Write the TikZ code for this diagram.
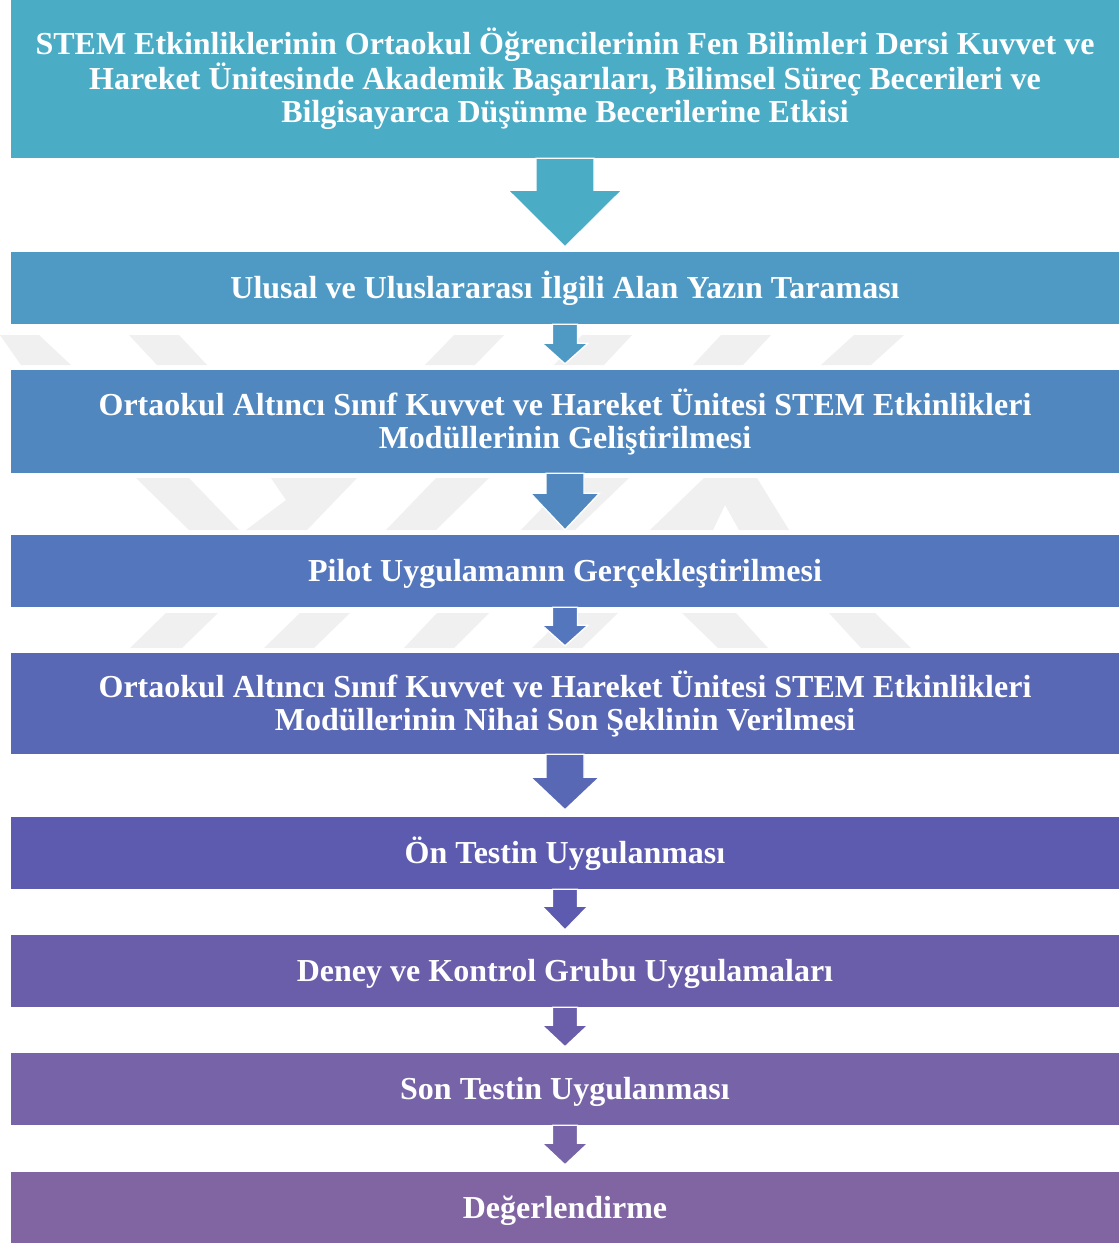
\documentclass[tikz,border=0pt]{standalone}
\usepackage{fontspec}
\setmainfont{Liberation Serif}
\usetikzlibrary{calc}

\definecolor{stepA}{HTML}{4BACC6}
\definecolor{stepB}{HTML}{4E9AC5}
\definecolor{stepC}{HTML}{5087BF}
\definecolor{stepD}{HTML}{5476BD}
\definecolor{stepE}{HTML}{5968B5}
\definecolor{stepF}{HTML}{5C5BB0}
\definecolor{stepG}{HTML}{6A5EAA}
\definecolor{stepH}{HTML}{7663A8}
\definecolor{stepI}{HTML}{8065A2}
\definecolor{wmgray}{HTML}{F0F0F0}

% block arrow from the bottom of #1 to the top of #2
% #3 colour, #4 shaft half-width, #5 head half-width, #6 shaft length, #7 gap above target
\newcommand\blockarrow[7]{%
  \filldraw[fill=#3, draw=white, line width=1.3pt, line join=miter]
    let \p1=(#1.south), \p2=(#2.north) in
    (\x1-#4pt,\y1) -- (\x1-#4pt,\y1-#6pt) -- (\x1-#5pt,\y1-#6pt)
    -- (\x1,\y2+#7pt)
    -- (\x1+#5pt,\y1-#6pt) -- (\x1+#4pt,\y1-#6pt) -- (\x1+#4pt,\y1) -- cycle;
}

\begin{document}
\begin{tikzpicture}[x=1pt,y=-1pt,
  stagebox/.style={rectangle, draw=none, minimum width=1108pt, inner sep=0pt,
    align=center, text=white, font=\bfseries\fontsize{32}{33}\selectfont},
  oneline/.style={stagebox, minimum height=72pt, text height=24pt, text depth=3pt},
  wm/.style={fill=wmgray, draw=none}]
\useasboundingbox (0,0) rectangle (1119,1243);
\fill[white] (0,0) rectangle (1119,1243);

% faint watermark pieces in the gaps
\fill[wm] (0,335)--(39,335)--(71,365)--(21,365)--cycle;
\fill[wm] (129,335)--(179,335)--(207,365)--(157,365)--cycle;
\fill[wm] (454,335)--(504,335)--(475,365)--(425,365)--cycle;
\fill[wm] (582,335)--(632,335)--(604,365)--(554,365)--cycle;
\fill[wm] (721,335)--(771,335)--(743,365)--(693,365)--cycle;
\fill[wm] (854,335)--(904,335)--(871,365)--(821,365)--cycle;

\fill[wm] (136,478)--(189,478)--(239,530)--(189,530)--cycle;
\fill[wm] (271,478)--(357,478)--(307,530)--(246,530)--(286,500)--cycle;
\fill[wm] (436,478)--(489,478)--(436,530)--(386,530)--cycle;
\fill[wm] (571,478)--(629,478)--(575,530)--(521,530)--cycle;
\fill[wm] (704,478)--(757,478)--(789,530)--(739,530)--(725,505)--(713,530)--(650,530)--cycle;

\fill[wm] (166,613)--(218,613)--(182,648)--(130,648)--cycle;
\fill[wm] (300,613)--(350,613)--(314,648)--(264,648)--cycle;
\fill[wm] (437,613)--(489,613)--(454,648)--(404,648)--cycle;
\fill[wm] (568,613)--(618,613)--(582,648)--(532,648)--cycle;
\fill[wm] (682,613)--(736,613)--(768,648)--(718,648)--cycle;
\fill[wm] (829,613)--(875,613)--(911,648)--(861,648)--cycle;

% stages
\node[stagebox, fill=stepA, minimum height=158pt] (b1) at (565,79)
  {STEM Etkinliklerinin Ortaokul Öğrencilerinin Fen Bilimleri Dersi Kuvvet ve\\
   Hareket Ünitesinde Akademik Başarıları, Bilimsel Süreç Becerileri ve\\
   Bilgisayarca Düşünme Becerilerine Etkisi};
\node[oneline, fill=stepB] (b2) at (565,288)
  {Ulusal ve Uluslararası İlgili Alan Yazın Taraması};
\node[stagebox, fill=stepC, minimum height=103pt] (b3) at (565,421.5)
  {Ortaokul Altıncı Sınıf Kuvvet ve Hareket Ünitesi STEM Etkinlikleri\\
   Modüllerinin Geliştirilmesi};
\node[oneline, fill=stepD] (b4) at (565,571)
  {Pilot Uygulamanın Gerçekleştirilmesi};
\node[stagebox, fill=stepE, minimum height=101pt] (b5) at (565,703.5)
  {Ortaokul Altıncı Sınıf Kuvvet ve Hareket Ünitesi STEM Etkinlikleri\\
   Modüllerinin Nihai Son Şeklinin Verilmesi};
\node[oneline, fill=stepF] (b6) at (565,853)
  {Ön Testin Uygulanması};
\node[oneline, fill=stepG] (b7) at (565,971)
  {Deney ve Kontrol Grubu Uygulamaları};
\node[oneline, fill=stepH] (b8) at (565,1089)
  {Son Testin Uygulanması};
\node[oneline, fill=stepI, minimum height=71pt] (b9) at (565,1207.5)
  {Değerlendirme};

% connectors
\blockarrow{b1}{b2}{stepA}{29}{57}{32}{5}
\blockarrow{b2}{b3}{stepB}{12.5}{23}{19}{6}
\blockarrow{b3}{b4}{stepC}{19}{34.5}{20}{5}
\blockarrow{b4}{b5}{stepD}{12.5}{23}{18}{7}
\blockarrow{b5}{b6}{stepE}{19}{34.5}{23}{7}
\blockarrow{b6}{b7}{stepF}{12.5}{23}{17}{5}
\blockarrow{b7}{b8}{stepG}{12.5}{23}{18}{6}
\blockarrow{b8}{b9}{stepH}{12.5}{23}{18}{7}
\end{tikzpicture}
\end{document}
